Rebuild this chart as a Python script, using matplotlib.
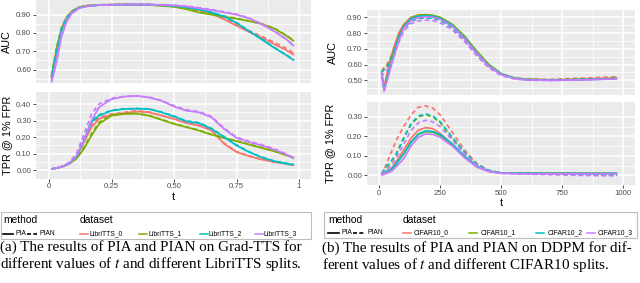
import matplotlib
matplotlib.use("Agg")
import matplotlib.pyplot as plt
from matplotlib.lines import Line2D
from matplotlib.patches import Rectangle

plt.rcParams['font.family'] = ['Liberation Sans', 'DejaVu Sans']
plt.rcParams['mathtext.fontset'] = 'stix'

COLORS = ['#F8766D', '#7CAE00', '#00BFC4', '#C77CFF']
methods = ['PIA', 'PIAN']
tts_datasets = ['LibriTTS_0', 'LibriTTS_1', 'LibriTTS_2', 'LibriTTS_3']
cifar_datasets = ['CIFAR10_0', 'CIFAR10_1', 'CIFAR10_2', 'CIFAR10_3']

# ---------------- Grad-TTS (left) ----------------
t_tts_auc = [0.01, 0.03, 0.05, 0.07, 0.09, 0.12, 0.15, 0.20, 0.30, 0.40, 0.50, 0.55,
             0.60, 0.65, 0.70, 0.75, 0.80, 0.85, 0.90, 0.95, 0.98]
tts_auc_pia = [
    [0.55, 0.70, 0.82, 0.88, 0.915, 0.940, 0.948, 0.953, 0.955, 0.955, 0.948, 0.940,
     0.925, 0.905, 0.875, 0.840, 0.805, 0.775, 0.740, 0.705, 0.680],
    [0.56, 0.71, 0.82, 0.88, 0.915, 0.940, 0.948, 0.953, 0.955, 0.953, 0.943, 0.930,
     0.912, 0.900, 0.888, 0.878, 0.865, 0.850, 0.825, 0.785, 0.755],
    [0.55, 0.69, 0.81, 0.875, 0.910, 0.937, 0.946, 0.952, 0.955, 0.955, 0.948, 0.940,
     0.928, 0.912, 0.890, 0.855, 0.810, 0.765, 0.720, 0.678, 0.650],
    [0.53, 0.64, 0.78, 0.86, 0.905, 0.935, 0.945, 0.952, 0.955, 0.955, 0.950, 0.945,
     0.935, 0.925, 0.912, 0.900, 0.880, 0.848, 0.810, 0.765, 0.728],
]
tts_auc_pian = [
    [0.56, 0.71, 0.83, 0.885, 0.918, 0.941, 0.949, 0.954, 0.956, 0.955, 0.948, 0.940,
     0.926, 0.908, 0.880, 0.845, 0.812, 0.782, 0.750, 0.715, 0.690],
    [0.57, 0.72, 0.83, 0.885, 0.918, 0.941, 0.949, 0.954, 0.955, 0.953, 0.944, 0.932,
     0.915, 0.903, 0.892, 0.880, 0.866, 0.850, 0.826, 0.787, 0.757],
    [0.56, 0.70, 0.82, 0.88, 0.913, 0.938, 0.947, 0.952, 0.955, 0.955, 0.948, 0.940,
     0.929, 0.914, 0.892, 0.857, 0.812, 0.768, 0.722, 0.680, 0.652],
    [0.54, 0.66, 0.80, 0.87, 0.910, 0.938, 0.947, 0.953, 0.956, 0.956, 0.952, 0.947,
     0.938, 0.928, 0.915, 0.903, 0.882, 0.850, 0.812, 0.767, 0.730],
]

t_tts_tpr = [0.01, 0.05, 0.08, 0.11, 0.14, 0.17, 0.20, 0.25, 0.30, 0.35, 0.40, 0.45,
             0.50, 0.55, 0.60, 0.65, 0.70, 0.75, 0.80, 0.85, 0.90, 0.95, 0.98]
tts_tpr_pia = [
    [0.007, 0.020, 0.040, 0.080, 0.170, 0.260, 0.310, 0.335, 0.345, 0.355, 0.350, 0.330,
     0.310, 0.285, 0.270, 0.240, 0.160, 0.110, 0.085, 0.065, 0.050, 0.038, 0.030],
    [0.007, 0.020, 0.038, 0.070, 0.130, 0.210, 0.280, 0.330, 0.340, 0.342, 0.330, 0.305,
     0.280, 0.260, 0.240, 0.215, 0.195, 0.176, 0.155, 0.135, 0.115, 0.090, 0.075],
    [0.007, 0.020, 0.040, 0.080, 0.180, 0.290, 0.330, 0.360, 0.370, 0.372, 0.370, 0.350,
     0.325, 0.295, 0.285, 0.250, 0.200, 0.150, 0.110, 0.078, 0.055, 0.040, 0.033],
    [0.007, 0.020, 0.040, 0.085, 0.180, 0.300, 0.380, 0.430, 0.445, 0.450, 0.440, 0.420,
     0.385, 0.360, 0.350, 0.320, 0.250, 0.195, 0.170, 0.150, 0.125, 0.095, 0.070],
]
tts_tpr_pian = [
    [0.007, 0.020, 0.045, 0.085, 0.180, 0.270, 0.320, 0.340, 0.350, 0.360, 0.352, 0.332,
     0.312, 0.288, 0.272, 0.245, 0.165, 0.112, 0.087, 0.066, 0.050, 0.038, 0.030],
    [0.007, 0.021, 0.040, 0.075, 0.140, 0.220, 0.290, 0.335, 0.343, 0.344, 0.332, 0.307,
     0.282, 0.262, 0.242, 0.217, 0.197, 0.178, 0.157, 0.137, 0.117, 0.092, 0.076],
    [0.007, 0.021, 0.042, 0.085, 0.190, 0.300, 0.335, 0.362, 0.371, 0.373, 0.371, 0.352,
     0.328, 0.298, 0.288, 0.253, 0.203, 0.153, 0.112, 0.080, 0.056, 0.041, 0.034],
    [0.007, 0.022, 0.045, 0.100, 0.220, 0.340, 0.400, 0.435, 0.447, 0.450, 0.442, 0.422,
     0.390, 0.365, 0.355, 0.325, 0.255, 0.200, 0.175, 0.155, 0.130, 0.098, 0.072],
]

# ---------------- DDPM (right) ----------------
t_ddpm_auc = [10, 20, 40, 60, 80, 100, 130, 160, 190, 220, 250, 300, 350, 400, 450,
              500, 550, 600, 700, 800, 900, 975]
ddpm_auc_pia = [
    [0.55, 0.46, 0.60, 0.71, 0.80, 0.855, 0.900, 0.914, 0.916, 0.910, 0.895, 0.845,
     0.765, 0.670, 0.590, 0.538, 0.515, 0.506, 0.503, 0.506, 0.512, 0.516],
    [0.54, 0.44, 0.57, 0.68, 0.78, 0.845, 0.895, 0.912, 0.916, 0.912, 0.900, 0.855,
     0.780, 0.685, 0.600, 0.543, 0.517, 0.506, 0.502, 0.504, 0.508, 0.512],
    [0.54, 0.44, 0.56, 0.67, 0.77, 0.840, 0.890, 0.906, 0.910, 0.906, 0.893, 0.848,
     0.770, 0.675, 0.593, 0.540, 0.515, 0.505, 0.501, 0.503, 0.507, 0.511],
    [0.55, 0.43, 0.54, 0.65, 0.75, 0.830, 0.880, 0.898, 0.903, 0.900, 0.888, 0.842,
     0.765, 0.670, 0.588, 0.537, 0.513, 0.503, 0.500, 0.502, 0.506, 0.510],
]
ddpm_auc_pian = [
    [0.56, 0.58, 0.62, 0.70, 0.78, 0.840, 0.885, 0.900, 0.902, 0.897, 0.882, 0.833,
     0.755, 0.662, 0.585, 0.537, 0.516, 0.508, 0.506, 0.512, 0.518, 0.522],
    [0.55, 0.57, 0.61, 0.69, 0.77, 0.830, 0.878, 0.895, 0.900, 0.897, 0.885, 0.840,
     0.765, 0.672, 0.592, 0.538, 0.515, 0.506, 0.503, 0.506, 0.510, 0.514],
    [0.55, 0.57, 0.60, 0.68, 0.765, 0.828, 0.875, 0.892, 0.896, 0.893, 0.880, 0.835,
     0.758, 0.666, 0.587, 0.536, 0.514, 0.505, 0.502, 0.505, 0.509, 0.512],
    [0.52, 0.55, 0.58, 0.65, 0.74, 0.810, 0.860, 0.877, 0.882, 0.878, 0.865, 0.820,
     0.745, 0.655, 0.578, 0.530, 0.510, 0.501, 0.499, 0.502, 0.506, 0.510],
]

t_ddpm_tpr = [10, 30, 50, 70, 100, 130, 160, 190, 220, 250, 300, 350, 400, 450, 500,
              600, 700, 800, 900, 975]
ddpm_tpr_pia = [
    [0.010, 0.020, 0.035, 0.070, 0.130, 0.190, 0.232, 0.245, 0.240, 0.215, 0.160, 0.095,
     0.045, 0.020, 0.012, 0.010, 0.010, 0.010, 0.010, 0.010],
    [0.010, 0.018, 0.030, 0.060, 0.110, 0.170, 0.210, 0.225, 0.222, 0.205, 0.155, 0.095,
     0.045, 0.020, 0.012, 0.010, 0.010, 0.010, 0.010, 0.010],
    [0.010, 0.020, 0.030, 0.060, 0.110, 0.170, 0.212, 0.228, 0.225, 0.210, 0.160, 0.098,
     0.047, 0.021, 0.012, 0.010, 0.010, 0.010, 0.010, 0.010],
    [0.000, 0.010, 0.020, 0.045, 0.085, 0.150, 0.195, 0.213, 0.210, 0.195, 0.150, 0.090,
     0.042, 0.018, 0.010, 0.008, 0.008, 0.008, 0.008, 0.008],
]
ddpm_tpr_pian = [
    [0.000, 0.060, 0.120, 0.180, 0.250, 0.310, 0.350, 0.357, 0.345, 0.310, 0.220, 0.130,
     0.060, 0.025, 0.012, 0.008, 0.006, 0.004, 0.002, 0.000],
    [0.010, 0.040, 0.070, 0.110, 0.190, 0.260, 0.300, 0.312, 0.300, 0.270, 0.190, 0.115,
     0.055, 0.024, 0.012, 0.009, 0.007, 0.005, 0.003, 0.002],
    [0.010, 0.045, 0.075, 0.110, 0.190, 0.265, 0.305, 0.316, 0.305, 0.275, 0.195, 0.118,
     0.057, 0.025, 0.012, 0.009, 0.007, 0.005, 0.003, 0.002],
    [0.005, 0.030, 0.050, 0.090, 0.160, 0.230, 0.270, 0.283, 0.275, 0.250, 0.180, 0.110,
     0.052, 0.022, 0.010, 0.006, 0.003, 0.000, -0.002, -0.003],
]

W, H = 640, 283
fig = plt.figure(figsize=(W / 100, H / 100), dpi=100)
fig.patch.set_facecolor('white')

LW = 1.25
DASH = (2.6, 1.8)
TICK_FS = 5.6
LABEL_FS = 7.8


def px_axes(x0, y0, x1, y1):
    return fig.add_axes([x0 / W, 1 - y1 / H, (x1 - x0) / W, (y1 - y0) / H])


def style(ax, xlim, ylim, xticks, xticklabels, yticks, ylabel, ylabel_x, show_x):
    ax.set_facecolor('#EBEBEB')
    for s in ax.spines.values():
        s.set_visible(False)
    ax.set_xlim(xlim)
    ax.set_ylim(ylim)
    ax.set_xticks(xticks)
    ax.set_xticks([(a + b) / 2 for a, b in zip(xticks[:-1], xticks[1:])], minor=True)
    ax.set_yticks(yticks)
    ax.set_yticks([(a + b) / 2 for a, b in zip(yticks[:-1], yticks[1:])]
                  + [yticks[0] - (yticks[1] - yticks[0]) / 2], minor=True)
    ax.set_yticklabels(['%.2f' % v for v in yticks])
    ax.grid(which='major', color='white', lw=1.1)
    ax.grid(which='minor', color='white', lw=0.55)
    ax.set_axisbelow(True)
    ax.tick_params(which='minor', length=0)
    ax.tick_params(which='major', length=2, width=0.6, color='#333333',
                   labelsize=TICK_FS, labelcolor='#4D4D4D', pad=1.5)
    if show_x:
        ax.set_xticklabels(xticklabels)
    else:
        ax.tick_params(axis='x', which='both', length=0, labelbottom=False)
    ax.set_ylabel(ylabel, fontsize=LABEL_FS, color='black')
    ax.yaxis.set_label_coords(ylabel_x, 0.5)


def draw(ax, t, pia, pian):
    for i in range(4):
        ax.plot(t, pia[i], color=COLORS[i], lw=LW, solid_capstyle='butt')
        ax.plot(t, pian[i], color=COLORS[i], lw=LW, linestyle=(0, DASH))


# Left panel
ax1 = px_axes(36, 0, 311, 83)
draw(ax1, t_tts_auc, tts_auc_pia, tts_auc_pian)
style(ax1, (-0.052, 1.048), (0.527, 0.980), [0, 0.25, 0.5, 0.75, 1],
      ['0', '0.25', '0.50', '0.75', '1'], [0.6, 0.7, 0.8, 0.9], 'AUC', -0.088, False)

ax2 = px_axes(36, 92, 311, 178.5)
draw(ax2, t_tts_tpr, tts_tpr_pia, tts_tpr_pian)
style(ax2, (-0.052, 1.048), (-0.0096, 0.473), [0, 0.25, 0.5, 0.75, 1],
      ['0', '0.25', '0.50', '0.75', '1'], [0.0, 0.1, 0.2, 0.3, 0.4], 'TPR @ 1% FPR', -0.088, True)
ax2.set_xlabel('t', fontsize=LABEL_FS, labelpad=1)

# Right panel
ax3 = px_axes(367, 10, 635, 95)
draw(ax3, t_ddpm_auc, ddpm_auc_pia, ddpm_auc_pian)
style(ax3, (-50, 1048), (0.407, 0.946), [0, 250, 500, 750, 1000],
      ['0', '250', '500', '750', '1000'], [0.5, 0.6, 0.7, 0.8, 0.9], 'AUC', -0.108, False)

ax4 = px_axes(367, 102, 635, 185)
draw(ax4, t_ddpm_tpr, ddpm_tpr_pia, ddpm_tpr_pian)
style(ax4, (-50, 1048), (-0.024, 0.377), [0, 250, 500, 750, 1000],
      ['0', '250', '500', '750', '1000'], [0.0, 0.1, 0.2, 0.3], 'TPR @ 1% FPR', -0.12, True)
ax4.set_xlabel('t', fontsize=LABEL_FS, labelpad=1)

# Legends and captions drawn in a pixel-coordinate overlay
ov = fig.add_axes([0, 0, 1, 1], zorder=-1)
ov.set_xlim(0, W)
ov.set_ylim(H, 0)
ov.axis('off')

LEG_TITLE_FS = 7.4
LEG_FS = 4.9


def legend(x0, x1, y0, y1, title_x, dataset_x, meth_keys, ds_keys, names):
    ov.add_patch(Rectangle((x0, y0), x1 - x0, y1 - y0, facecolor='white',
                           edgecolor='#BDBDBD', lw=0.8))
    ty = y0 + 8.0
    ey = y1 - 5.0
    ov.text(title_x, ty, 'method', fontsize=LEG_TITLE_FS, va='center', ha='left')
    ov.text(dataset_x, ty, 'dataset', fontsize=LEG_TITLE_FS, va='center', ha='left')
    for (kx, kl, tx), m, ls in zip(meth_keys, methods, ['-', (0, (2.4, 1.4))]):
        ov.add_line(Line2D([kx, kx + kl], [ey, ey], color='black', lw=1.2, linestyle=ls))
        ov.text(tx, ey, m, fontsize=LEG_FS, va='center', ha='left')
    for i, ((kx, tx), name) in enumerate(zip(ds_keys, names)):
        ov.add_line(Line2D([kx, kx + 8], [ey, ey], color=COLORS[i], lw=1.1))
        ov.text(tx, ey, name, fontsize=LEG_FS, va='center', ha='left')


legend(1, 311, 212, 238.5, 3, 80, [(3, 9.5, 15), (26.5, 10, 39)],
       [(80, 89.5), (139, 148.5), (199.5, 208.5), (254.5, 263.5)], tts_datasets)
legend(324, 637, 212, 238, 328, 403, [(328, 11, 341.5), (353, 11.5, 367)],
       [(403, 414), (469, 480.5), (536, 548), (587, 598)], cifar_datasets)

CAP_FS = 10.9
cap = dict(fontsize=CAP_FS, family=['Liberation Serif', 'DejaVu Serif'], va='center', ha='left')
ov.text(0, 247.5, '(a) The results of PIA and PIAN on Grad-TTS for', **cap)
ov.text(0, 264, 'different values of $t$ and different LibriTTS splits.', **cap)
ov.text(322, 248.5, '(b) The results of PIA and PIAN on DDPM for dif-', **cap)
ov.text(322, 265, 'ferent values of $t$ and different CIFAR10 splits.', **cap)

fig.savefig('out.png', dpi=100, facecolor='white')
